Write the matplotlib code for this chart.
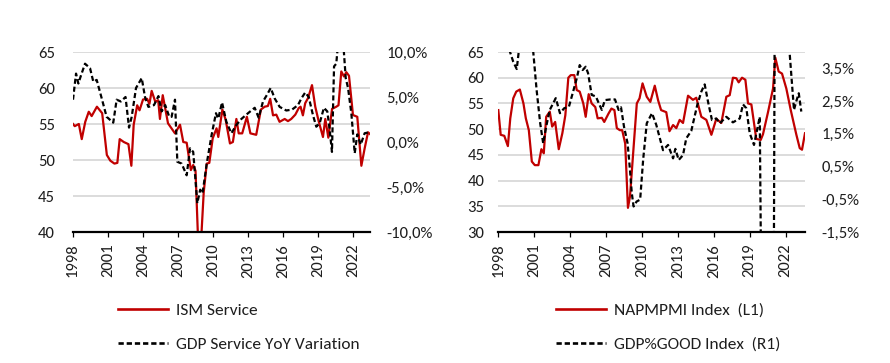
import matplotlib
matplotlib.use("Agg")
import matplotlib.pyplot as plt
from matplotlib import font_manager
from matplotlib.lines import Line2D

# ---------------- data ----------------
ism_years = [1998.0, 1998.15, 1998.5, 1998.75, 1999.05, 1999.35, 1999.6, 2000.05, 2000.5, 2000.9,
             2001.2, 2001.55, 2001.8, 2002.0, 2002.35, 2002.75, 2003.0, 2003.2, 2003.5, 2003.7,
             2004.0, 2004.35, 2004.55, 2004.74, 2005.05, 2005.3, 2005.45, 2005.69, 2006.14, 2006.74,
             2007.17, 2007.45, 2007.74, 2008.1, 2008.3, 2008.5, 2008.75, 2008.95, 2009.2, 2009.46,
             2009.68, 2009.97, 2010.3, 2010.45, 2010.8, 2011.08, 2011.45, 2011.7, 2012.0, 2012.2,
             2012.5, 2012.9, 2013.2, 2013.7, 2014.1, 2014.42, 2014.7, 2014.9, 2015.14, 2015.42,
             2015.7, 2016.14, 2016.42, 2016.7, 2017.05, 2017.34, 2017.5, 2017.7, 2017.9, 2018.14,
             2018.48, 2018.76, 2019.05, 2019.42, 2019.62, 2019.88, 2020.2, 2020.56, 2020.75, 2020.99,
             2021.22, 2021.42, 2021.65, 2021.99, 2022.36, 2022.71, 2022.99, 2023.28, 2023.45]
ism_values = [55.0, 54.7, 55.0, 52.9, 55.3, 56.7, 56.1, 57.4, 56.5, 50.7,
              49.9, 49.5, 49.6, 52.9, 52.5, 52.2, 49.2, 54.9, 57.6, 56.9,
              58.4, 58.5, 57.8, 59.6, 58.1, 58.3, 55.7, 59.0, 55.1, 53.7,
              54.9, 52.5, 52.4, 48.6, 49.3, 48.5, 37.5, 38.0, 45.5, 49.5,
              49.6, 53.0, 54.4, 53.2, 57.0, 55.6, 52.3, 52.5, 55.7, 53.7,
              53.7, 56.0, 53.7, 53.5, 57.0, 57.4, 57.5, 58.5, 56.2, 56.3,
              55.3, 55.7, 55.4, 55.7, 56.3, 57.2, 57.4, 56.2, 57.9, 58.6,
              60.4, 57.4, 55.4, 53.2, 55.7, 53.1, 57.1, 57.4, 57.6, 62.3,
              61.6, 62.2, 61.7, 56.25, 56.0, 49.2, 51.6, 53.85, 53.6]

gdp_serv_years = [1998.0, 1998.26, 1998.46, 1998.66, 1999.03, 1999.46, 1999.74, 2000.03, 2000.46, 2000.88,
                  2001.45, 2001.74, 2002.1, 2002.5, 2002.8, 2003.03, 2003.4, 2003.89, 2004.17, 2004.46,
                  2004.94, 2005.32, 2005.6, 2005.9, 2006.25, 2006.45, 2006.74, 2006.94, 2007.31, 2007.74,
                  2008.03, 2008.3, 2008.45, 2008.65, 2008.9, 2009.1, 2009.46, 2009.88, 2010.25, 2010.45,
                  2010.77, 2011.14, 2011.57, 2012.0, 2012.42, 2013.0, 2013.57, 2013.91, 2014.28, 2014.65,
                  2014.94, 2015.28, 2015.71, 2016.28, 2016.77, 2017.28, 2017.57, 2017.9, 2018.2, 2018.56,
                  2018.85, 2019.14, 2019.5, 2019.79, 2020.0, 2020.19, 2020.37, 2020.56, 2020.85, 2021.05,
                  2021.37, 2021.57, 2021.85, 2022.14, 2022.36, 2022.65, 2022.99, 2023.42]
gdp_serv_values = [4.7, 7.6, 6.5, 7.3, 8.7, 8.2, 6.7, 6.9, 4.85, 2.8,
                   2.15, 4.7, 4.5, 5.0, 1.6, 2.8, 6.0, 7.1, 5.0, 3.9,
                   4.1, 5.1, 3.4, 4.1, 2.8, 2.8, 4.7, -2.2, -2.4, -3.7,
                   -0.7, -1.1, -3.5, -6.8, -5.3, -5.7, -2.4, 0.8, 3.2, 2.6,
                   4.4, 2.25, 0.97, 1.9, 2.55, 3.2, 3.8, 2.7, 4.5, 5.3,
                   6.0, 4.85, 3.9, 3.5, 3.6, 4.1, 4.85, 5.5, 5.0, 3.0,
                   1.7, 2.1, 3.8, 3.4, 1.3, -1.1, 8.4, 8.7, 13.0, 13.0,
                   7.1, 6.0, 3.2, -1.25, 0.85, -0.3, 0.97, 1.1]

pmi_years = [1998.0, 1998.2, 1998.5, 1998.8, 1999.0, 1999.25, 1999.5, 1999.8, 2000.1, 2000.3,
             2000.55, 2000.8, 2001.05, 2001.35, 2001.6, 2001.8, 2002.0, 2002.3, 2002.5, 2002.75,
             2003.05, 2003.35, 2003.6, 2003.85, 2004.05, 2004.35, 2004.55, 2004.8, 2005.1, 2005.3,
             2005.55, 2005.8, 2006.1, 2006.3, 2006.65, 2006.85, 2007.2, 2007.45, 2007.7, 2007.9,
             2008.15, 2008.35, 2008.6, 2008.83, 2009.0, 2009.57, 2009.8, 2010.05, 2010.4, 2010.7,
             2011.07, 2011.35, 2011.6, 2012.03, 2012.3, 2012.6, 2012.87, 2013.15, 2013.43, 2013.85,
             2014.26, 2014.54, 2014.96, 2015.38, 2015.8, 2016.21, 2016.63, 2017.05, 2017.33, 2017.6,
             2017.88, 2018.08, 2018.36, 2018.64, 2018.86, 2019.14, 2019.55, 2019.92, 2020.11, 2020.53,
             2020.95, 2021.14, 2021.42, 2021.7, 2022.06, 2022.43, 2022.9, 2023.18, 2023.37, 2023.62]
pmi_values = [53.7, 48.9, 48.7, 46.7, 52.1, 56.0, 57.3, 57.7, 55.0, 52.1,
              49.8, 43.7, 43.0, 43.0, 46.1, 45.3, 52.4, 53.4, 50.5, 51.4,
              46.1, 49.2, 52.7, 60.0, 60.5, 60.5, 57.6, 57.3, 55.0, 52.4,
              56.8, 55.0, 54.3, 52.1, 52.2, 51.4, 53.0, 54.0, 53.7, 50.2,
              49.8, 49.8, 47.2, 34.7, 36.9, 55.0, 56.0, 58.9, 56.3, 55.3,
              58.45, 55.6, 53.7, 53.3, 49.6, 50.8, 50.2, 51.8, 51.2, 56.5,
              55.7, 56.1, 52.4, 51.8, 48.9, 52.0, 51.2, 56.3, 56.6, 60.0,
              59.9, 59.1, 60.0, 59.6, 55.0, 54.8, 48.1, 47.9, 49.0, 53.3,
              57.9, 63.9, 61.2, 60.8, 57.9, 53.7, 48.9, 46.3, 46.0, 49.2]

gdp_good_years = [1998.0, 1998.5, 1998.98, 1999.25, 1999.54, 1999.8, 2000.2, 2000.6, 2000.92, 2001.2,
                  2001.5, 2001.75, 2002.0, 2002.3, 2002.8, 2003.15, 2003.5, 2003.9, 2004.25, 2004.55,
                  2004.8, 2005.05, 2005.3, 2005.5, 2005.8, 2006.15, 2006.4, 2006.65, 2006.9, 2007.35,
                  2007.75, 2008.05, 2008.25, 2008.5, 2008.8, 2009.0, 2009.15, 2009.3, 2009.55, 2009.85,
                  2010.1, 2010.4, 2010.84, 2011.2, 2011.76, 2012.18, 2012.6, 2012.79, 2013.07, 2013.43,
                  2013.7, 2014.12, 2014.62, 2014.96, 2015.24, 2015.52, 2015.85, 2016.21, 2016.5, 2017.05,
                  2017.6, 2018.17, 2018.44, 2018.72, 2019.0, 2019.36, 2019.7, 2019.84, 2020.1, 2020.4,
                  2020.7, 2020.95, 2021.15, 2021.5, 2021.9, 2022.32, 2022.7, 2022.88, 2023.1, 2023.31]
gdp_good_values = [5.5, 5.0, 4.0, 3.7, 3.48, 4.3, 5.5, 5.0, 4.0, 2.84,
                   1.82, 1.21, 1.72, 2.23, 2.59, 2.13, 2.28, 2.33, 2.79, 3.19,
                   3.6, 3.45, 3.55, 3.35, 2.69, 2.64, 2.43, 2.23, 2.53, 2.55,
                   2.55, 2.23, 2.31, 1.72, 1.21, 0.40, -0.31, -0.72, -0.57, -0.51,
                   0.71, 1.82, 2.13, 1.77, 1.0, 1.16, 0.75, 1.04, 0.7, 0.85,
                   1.36, 1.59, 2.38, 2.79, 3.01, 2.48, 1.92, 1.97, 1.82, 2.02,
                   1.85, 1.97, 2.4, 2.28, 1.52, 1.16, 1.77, 2.02, -9.0, -12.0,
                   -8.0, -10.0, 12.0, 9.0, 6.0, 4.05, 2.23, 2.48, 2.74, 2.18]

year_ticks = [1998, 2001, 2004, 2007, 2010, 2013, 2016, 2019, 2022]
left_y1_ticks = [40, 45, 50, 55, 60, 65]
left_y2_ticks = [-10, -5, 0, 5, 10]
right_y1_ticks = [30, 35, 40, 45, 50, 55, 60, 65]
right_y2_ticks = [-1.5, -0.5, 0.5, 1.5, 2.5, 3.5]

left_labels = ["ISM Service", "GDP Service YoY Variation"]
right_labels = ["NAPMPMI Index  (L1)", "GDP%GOOD Index  (R1)"]

# ---------------- style ----------------
avail = {f.name for f in font_manager.fontManager.ttflist}
FONT = "Carlito" if "Carlito" in avail else "Lato"
plt.rcParams["font.family"] = [FONT, "DejaVu Sans"]

RED = "#c00000"
GRID = "#d9d9d9"
TXT = "#1e1e1e"
TICKFS = 12
LEGFS = 12.5
DASH = (2.3, 1.3)

W, H = 890, 363
fig = plt.figure(figsize=(W / 100, H / 100), dpi=100)


def fmt_pct(v, dec):
    s = f"{v:.{dec}f}".replace(".", ",")
    return s + "%"


def make_panel(x0, x1, xmax, y1lim, y1ticks, y2lim, y2ticks, y2dec,
               xs1, v1, xs2, v2, lpad, rpad, labels, leg_x):
    ax = fig.add_axes([x0 / W, 1 - 232 / H, (x1 - x0) / W, 180 / H])
    ax2 = ax.twinx()
    ax.set_xlim(1998.0, xmax)
    ax.set_ylim(*y1lim)
    ax2.set_ylim(*y2lim)
    ax.set_yticks(y1ticks)
    ax.set_yticklabels([str(t) for t in y1ticks])
    ax2.set_yticks(y2ticks)
    ax2.set_yticklabels([fmt_pct(t, y2dec) for t in y2ticks])
    ax.set_xticks(year_ticks)
    ax.set_xticklabels([str(t) for t in year_ticks], rotation=90)
    for a in (ax, ax2):
        for s in a.spines.values():
            s.set_visible(False)
    ax.spines["bottom"].set_visible(True)
    ax.spines["bottom"].set_linewidth(1.6)
    ax.spines["bottom"].set_color("black")
    ax.spines["bottom"].set_zorder(5)
    ax.yaxis.grid(True, color=GRID, linewidth=1.3)
    ax.set_axisbelow(True)
    ax.tick_params(axis="y", length=0, pad=lpad, labelsize=TICKFS, labelcolor=TXT)
    ax2.tick_params(axis="y", length=0, pad=rpad, labelsize=TICKFS, labelcolor=TXT)
    ax.tick_params(axis="x", length=3.5, width=0.9, color="black", pad=5,
                   labelsize=TICKFS, labelcolor=TXT, direction="out")
    ax.plot(xs1, v1, color=RED, linewidth=1.6, solid_joinstyle="round")
    ax2.plot(xs2, v2, color="black", linewidth=1.6, dashes=DASH)
    handles = [Line2D([], [], color=RED, linewidth=1.9),
               Line2D([], [], color="black", linewidth=1.9, dashes=(2.0, 1.1))]
    leg = ax.legend(handles, labels, loc="upper left",
                    bbox_to_anchor=(leg_x / W, 1 - 303 / H),
                    bbox_transform=fig.transFigure, frameon=False,
                    fontsize=LEGFS, handlelength=2.87, handletextpad=0.46,
                    labelspacing=1.07, borderpad=0, borderaxespad=0)
    for t in leg.get_texts():
        t.set_color(TXT)
    return ax, ax2


make_panel(73, 370, 2023.45, (40, 65), left_y1_ticks, (-10, 10), left_y2_ticks, 1,
           ism_years, ism_values, gdp_serv_years, gdp_serv_values, 13, 12,
           left_labels, 118)
make_panel(498.3, 805, 2023.62, (30, 65), right_y1_ticks, (-1.5, 4.0), right_y2_ticks, 1,
           pmi_years, pmi_values, gdp_good_years, gdp_good_values, 10, 12,
           right_labels, 556)

fig.savefig("out.png", dpi=100)
